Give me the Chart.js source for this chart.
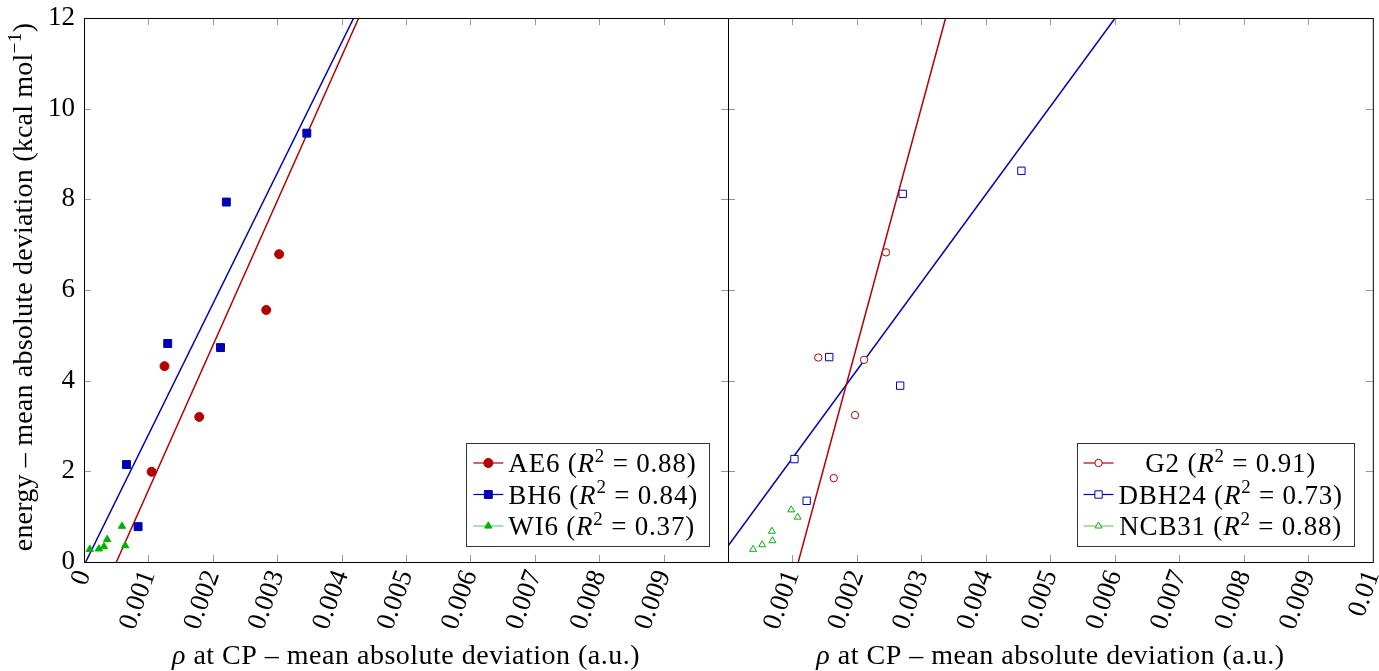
<!DOCTYPE html>
<html>
<head>
<meta charset="utf-8">
<script src="https://cdn.jsdelivr.net/npm/chart.js@4.4.0/dist/chart.umd.min.js"></script>
<style>
  html, body { margin: 0; padding: 0; background: #fff; overflow: hidden; }
  #wrap { position: relative; width: 1379px; height: 671px; }
  canvas { position: absolute; top: 0; }
  #left { left: 0; }
  #right { left: 700px; }
</style>
</head>
<body>
<div id="wrap">
  <canvas id="left" width="740" height="671"></canvas>
  <canvas id="right" width="679" height="671"></canvas>
</div>
<script>
// ticks
const xTickValues = [0, 0.001, 0.002, 0.003, 0.004, 0.005, 0.006, 0.007, 0.008, 0.009, 0.01];
const xTickLabels = ['0', '0.001', '0.002', '0.003', '0.004', '0.005', '0.006', '0.007', '0.008', '0.009', '0.01'];
const yTickValues = [0, 2, 4, 6, 8, 10, 12];
const yTickLabels = ['0', '2', '4', '6', '8', '10', '12'];

// left panel (filled marks)
const ae6X = [0.00105, 0.00125, 0.00179, 0.00283, 0.00303];
const ae6Y = [1.99, 4.32, 3.20, 5.56, 6.79];
const bh6X = [0.00066, 0.00084, 0.00130, 0.00212, 0.00221, 0.00346];
const bh6Y = [2.15, 0.78, 4.82, 4.73, 7.94, 9.46];
const wi6X = [0.00009, 0.00023, 0.00031, 0.00036, 0.00059, 0.00064];
const wi6Y = [0.28, 0.29, 0.34, 0.50, 0.79, 0.36];
const ae6FitX = [0.000503, 0.004266];
const ae6FitY = [0, 12];
const bh6FitX = [0.000026, 0.004188];
const bh6FitY = [0, 12];
const leftNames = ['AE6', 'BH6', 'WI6'];
const leftR2 = ['0.88', '0.84', '0.37'];

// right panel (open marks)
const g2X = [0.00140, 0.00164, 0.00197, 0.00211, 0.00245];
const g2Y = [4.51, 1.85, 3.24, 4.46, 6.83];
const dbh24X = [0.00103, 0.00122, 0.00157, 0.00267, 0.00271, 0.00455];
const dbh24Y = [2.27, 1.35, 4.52, 3.89, 8.12, 8.63];
const ncb31X = [0.00039, 0.00053, 0.00068, 0.00069, 0.00098, 0.00108];
const ncb31Y = [0.28, 0.38, 0.68, 0.47, 1.15, 0.99];
const g2FitX = [0.00109, 0.003375];
const g2FitY = [0, 12];
const dbh24FitX = [0, 0.006005];
const dbh24FitY = [0.353, 12];
const rightNames = ['G2', 'DBH24', 'NCB31'];
const rightR2 = ['0.91', '0.73', '0.88'];

const RED = 'rgb(180,0,0)';
const BLUE = 'rgb(0,0,180)';
const GREEN = 'rgb(0,178,0)';
const FONT = "'Liberation Serif', 'Times New Roman', serif";

const pts = (xs, ys) => xs.map((x, i) => ({ x: x, y: ys[i] }));

function setFont(ctx, st, size) {
  const s = st === 's' ? size * 0.7 : size;
  ctx.font = (st === 'i' ? 'italic ' : '') + s + 'px ' + FONT;
}
function richWidth(ctx, parts, size) {
  let w = 0;
  for (const [t, st] of parts) { setFont(ctx, st, size); w += ctx.measureText(t).width; }
  return w;
}
function drawRich(ctx, parts, x, y, size, align) {
  ctx.textAlign = 'left';
  ctx.textBaseline = 'alphabetic';
  let cx = align === 'center' ? x - richWidth(ctx, parts, size) / 2 : x;
  for (const [t, st] of parts) {
    setFont(ctx, st, size);
    ctx.fillText(t, cx, st === 's' ? y - size * 0.38 : y);
    cx += ctx.measureText(t).width;
  }
}

function drawMarker(ctx, style, x, y, r, color, filled) {
  ctx.beginPath();
  if (style === 'circle') {
    ctx.arc(x, y, r, 0, Math.PI * 2);
  } else if (style === 'rect') {
    const s = r * Math.SQRT1_2;
    ctx.rect(x - s, y - s, 2 * s, 2 * s);
  } else {
    const a = r * 0.866;
    ctx.moveTo(x, y - r);
    ctx.lineTo(x + a, y + r / 2);
    ctx.lineTo(x - a, y + r / 2);
    ctx.closePath();
  }
  ctx.fillStyle = filled ? color : '#fff';
  ctx.fill();
  ctx.strokeStyle = color;
  ctx.lineWidth = 1;
  ctx.stroke();
}

// frame, inward ticks, titles and legend
const decor = {
  id: 'decor',
  afterDraw(chart, args, o) {
    const ctx = chart.ctx;
    const a = chart.chartArea;
    const xs = chart.scales.x, ys = chart.scales.y;
    ctx.save();
    // tick marks
    ctx.strokeStyle = '#999';
    ctx.lineWidth = 1;
    ctx.beginPath();
    xTickValues.forEach(v => {
      const px = Math.round(xs.getPixelForValue(v)) + 0.5;
      if (px < a.left + 2 || px > a.right - 2) return;
      ctx.moveTo(px, a.bottom); ctx.lineTo(px, a.bottom - 7);
      ctx.moveTo(px, a.top); ctx.lineTo(px, a.top + 7);
    });
    yTickValues.forEach(v => {
      const py = Math.round(ys.getPixelForValue(v)) + 0.5;
      if (py < a.top + 2 || py > a.bottom - 2) return;
      ctx.moveTo(a.left, py); ctx.lineTo(a.left + 7, py);
      ctx.moveTo(a.right, py); ctx.lineTo(a.right - 7, py);
    });
    ctx.stroke();
    // frame
    ctx.strokeStyle = '#000';
    ctx.strokeRect(a.left + 0.5, a.top + 0.5, a.right - a.left, a.bottom - a.top);

    ctx.fillStyle = '#000';
    // x title
    ctx.letterSpacing = '0.5px';
    drawRich(ctx, [['ρ', 'i'], [' at CP – mean absolute deviation (a.u.)', '']], (a.left + a.right) / 2, 664, 28, 'center');
    // y title
    if (o.yTitle) {
      ctx.letterSpacing = '0.2px';
      ctx.save();
      ctx.translate(32, 287);
      ctx.rotate(-Math.PI / 2);
      drawRich(ctx, [['energy – mean absolute deviation (kcal mol', ''], ['−1', 's'], [')', '']], 0, 0, 28, 'center');
      ctx.restore();
    }
    // legend
    ctx.letterSpacing = '0.8px';
    const size = 27;
    const rows = o.items.map(it => [[it.name + ' (', ''], ['R', 'i'], ['2', 's'], [' = ' + it.r2 + ')', '']]);
    const tw = Math.max(...rows.map(r => richWidth(ctx, r, size)));
    const bw = 7 + 30 + 5 + tw + 11;
    const bh = 103;
    const bx = a.right - 19 - bw;
    const by = a.bottom - 16 - bh;
    ctx.fillStyle = '#fff';
    ctx.fillRect(bx, by, bw, bh);
    ctx.strokeStyle = '#333';
    ctx.strokeRect(Math.round(bx) + 0.5, Math.round(by) + 0.5, Math.round(bw), bh);
    o.items.forEach((it, i) => {
      const cy = by + 20 + i * 31.5;
      ctx.strokeStyle = it.lineColor;
      ctx.lineWidth = 1.2;
      ctx.beginPath();
      ctx.moveTo(bx + 7, cy); ctx.lineTo(bx + 37, cy);
      ctx.stroke();
      drawMarker(ctx, it.style, bx + 22, cy, it.r, it.color, it.filled);
      ctx.fillStyle = '#000';
      const tx = bx + 42;
      if (o.align === 'center') {
        drawRich(ctx, rows[i], tx + tw / 2, cy + 9, size, 'center');
      } else {
        drawRich(ctx, rows[i], tx, cy + 9, size, 'left');
      }
    });
    ctx.restore();
  }
};

function scatterSet(xs, ys, color, style, r, filled) {
  return {
    data: pts(xs, ys),
    showLine: false,
    pointStyle: style,
    pointRadius: r,
    pointHoverRadius: r,
    pointBorderWidth: 1,
    borderColor: color,
    backgroundColor: filled ? color : '#fff'
  };
}
function fitSet(xs, ys, color) {
  return {
    data: pts(xs, ys),
    showLine: true,
    pointRadius: 0,
    borderColor: color,
    borderWidth: 1.5,
    order: 5
  };
}

function makePanel(id, datasets, hideIndex, showY, pad, decorOpts) {
  return new Chart(document.getElementById(id), {
    type: 'scatter',
    data: { datasets: datasets },
    plugins: [decor],
    options: {
      responsive: false,
      animation: false,
      devicePixelRatio: 1,
      layout: { padding: pad },
      plugins: { legend: { display: false }, tooltip: { enabled: false }, decor: decorOpts },
      scales: {
        x: {
          type: 'linear', min: 0, max: 0.01,
          grid: { display: false, drawTicks: false },
          border: { display: false },
          afterBuildTicks: s => { s.ticks = xTickValues.map(v => ({ value: v })); },
          afterFit: s => { s.paddingLeft = 0; s.paddingRight = 0; s.height = 109; },
          ticks: {
            autoSkip: false, minRotation: 70, maxRotation: 70, padding: 4,
            color: '#000', font: { family: FONT, size: 27 },
            callback: (v, i) => (i === hideIndex ? '' : xTickLabels[i])
          }
        },
        y: {
          type: 'linear', min: 0, max: 12, display: showY,
          grid: { display: false, drawTicks: false },
          border: { display: false },
          afterBuildTicks: s => { s.ticks = yTickValues.map(v => ({ value: v })); },
          afterFit: s => { s.paddingTop = 0; s.paddingBottom = 0; s.width = showY ? 84 : 0; },
          ticks: {
            padding: 9, color: '#000', font: { family: FONT, size: 27 },
            callback: (v, i) => yTickLabels[i]
          }
        }
      }
    }
  });
}

makePanel('left', [
  scatterSet(ae6X, ae6Y, RED, 'circle', 4.5, true),
  scatterSet(bh6X, bh6Y, BLUE, 'rect', 5.6, true),
  scatterSet(wi6X, wi6Y, GREEN, 'triangle', 4.2, true),
  fitSet(ae6FitX, ae6FitY, RED),
  fitSet(bh6FitX, bh6FitY, BLUE)
], 10, true, { left: 0, right: 12, top: 18, bottom: 0 }, {
  yTitle: true, align: 'left',
  items: [
    { name: leftNames[0], r2: leftR2[0], color: RED, lineColor: RED, style: 'circle', r: 4.5, filled: true },
    { name: leftNames[1], r2: leftR2[1], color: BLUE, lineColor: BLUE, style: 'rect', r: 5.6, filled: true },
    { name: leftNames[2], r2: leftR2[2], color: GREEN, lineColor: 'rgb(110,205,110)', style: 'triangle', r: 4.2, filled: true }
  ]
});

makePanel('right', [
  scatterSet(g2X, g2Y, RED, 'circle', 3.7, false),
  scatterSet(dbh24X, dbh24Y, BLUE, 'rect', 5.2, false),
  scatterSet(ncb31X, ncb31Y, GREEN, 'triangle', 4, false),
  fitSet(g2FitX, g2FitY, RED),
  fitSet(dbh24FitX, dbh24FitY, BLUE)
], 0, false, { left: 28, right: 6, top: 18, bottom: 0 }, {
  yTitle: false, align: 'center',
  items: [
    { name: rightNames[0], r2: rightR2[0], color: RED, lineColor: RED, style: 'circle', r: 3.7, filled: false },
    { name: rightNames[1], r2: rightR2[1], color: BLUE, lineColor: BLUE, style: 'rect', r: 5.2, filled: false },
    { name: rightNames[2], r2: rightR2[2], color: GREEN, lineColor: 'rgb(110,205,110)', style: 'triangle', r: 4, filled: false }
  ]
});
</script>
</body>
</html>
